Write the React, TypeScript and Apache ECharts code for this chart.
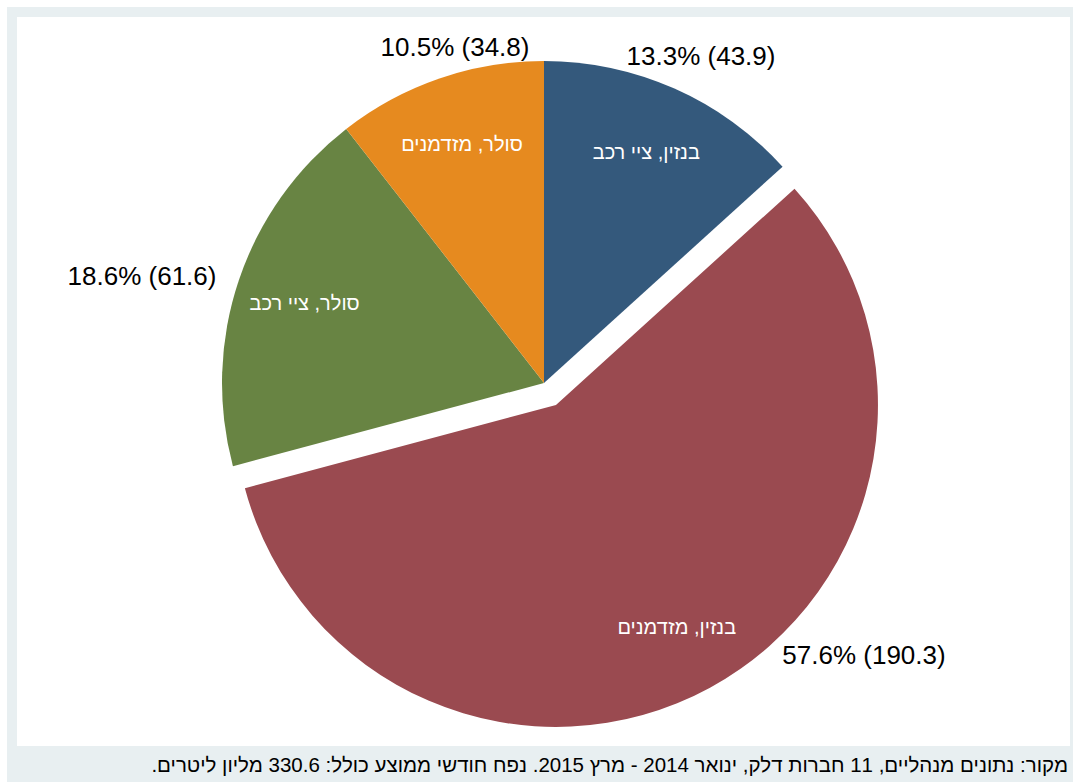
import React, { useEffect, useRef } from "react";
import * as echarts from "echarts";

const categories = ["בנזין, ציי רכב", "בנזין, מזדמנים", "סולר, ציי רכב", "סולר, מזדמנים"];
const values = [43.9, 190.3, 61.6, 34.8];
const percents = [13.3, 57.6, 18.6, 10.5];
const explodedIndex = 1;
const caption =
  "מקור: נתונים מנהליים, 11 חברות דלק, ינואר 2014 - מרץ 2015. נפח חודשי ממוצע כולל: 330.6 מליון ליטרים.\u200F";

const COLORS = ["#34597C", "#9A4A50", "#688443", "#E68A1F"];
const OUTER_LABEL_POS: [number, number][] = [
  [701, 56],
  [864, 655],
  [142, 276],
  [455, 47],
];
const FONT = "'Liberation Sans', Arial, sans-serif";
const FRAME = "#E8EFF1";

export default function App() {
  const ref = useRef<HTMLDivElement>(null);
  useEffect(() => {
    if (!ref.current) return;
    const chart = echarts.init(ref.current, undefined, { renderer: "svg" });
    const common = {
      type: "pie" as const,
      center: [544, 383],
      startAngle: 90,
      clockwise: true,
      selectedMode: "single" as const,
      selectedOffset: 25,
      avoidLabelOverlap: false,
      emphasis: { disabled: true },
      labelLine: { show: false },
    };
    chart.setOption({
      animation: false,
      backgroundColor: "#ffffff",
      graphic: [
        { type: "rect", shape: { x: 7, y: 7, width: 1066, height: 775 }, style: { fill: FRAME }, z: -10 },
        { type: "rect", shape: { x: 17, y: 17, width: 1053, height: 729 }, style: { fill: "#ffffff" }, z: -9 },
        {
          type: "text",
          z: 10,
          style: {
            text: caption,
            x: 1068,
            y: 764,
            align: "right",
            verticalAlign: "middle",
            textAlign: "right",
            textVerticalAlign: "middle",
            fontSize: 20.5,
            fontFamily: FONT,
            fill: "#000000",
          },
        },
      ],
      series: [
        {
          ...common,
          radius: [0, 322],
          data: categories.map((name, i) => ({
            name,
            value: values[i],
            selected: i === explodedIndex,
            itemStyle: { color: COLORS[i] },
          })),
          label: { show: false },
        },
        {
          ...common,
          radius: [177, 322],
          silent: true,
          data: categories.map((name, i) => ({
            name,
            value: values[i],
            selected: i === explodedIndex,
            itemStyle: { color: "rgba(0,0,0,0)" },
          })),
          label: {
            show: true,
            position: "inside",
            formatter: "{b}",
            fontSize: 20,
            fontFamily: FONT,
            color: "#ffffff",
          },
        },
        {
          ...common,
          radius: [0, 322],
          silent: true,
          selectedMode: false,
          data: categories.map((name, i) => ({
            name,
            value: values[i],
            itemStyle: { color: "rgba(0,0,0,0)" },
          })),
          label: {
            show: true,
            position: "outside",
            formatter: (p: any) => `${percents[p.dataIndex]}% (${values[p.dataIndex]})`,
            fontSize: 26,
            fontFamily: FONT,
            color: "#000000",
          },
          labelLayout: (p: any) => ({
            x: OUTER_LABEL_POS[p.dataIndex][0],
            y: OUTER_LABEL_POS[p.dataIndex][1],
            align: "center",
            verticalAlign: "middle",
          }),
        },
      ],
    });
    return () => chart.dispose();
  }, []);
  return (
    <div
      ref={ref}
      style={{ position: "absolute", left: 0, top: 0, width: 1073, height: 782 }}
    />
  );
}
